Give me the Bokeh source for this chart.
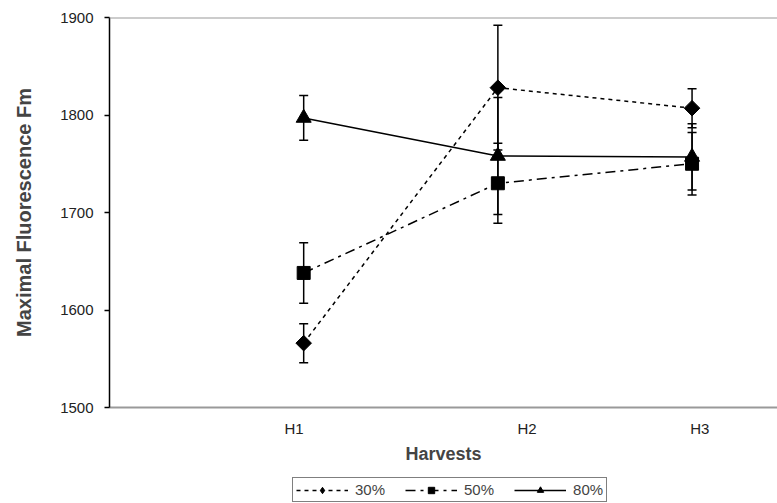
import math
from bokeh.plotting import figure
from bokeh.layouts import column
from bokeh.models import (ColumnDataSource, Whisker, TeeHead, FixedTicker, Legend,
                          LegendItem, Span)
from bokeh.embed import file_html
from bokeh.resources import INLINE

# ---- data ----
harvests = ["H1", "H2", "H3"]
harvest_x = [1, 2, 3]
fm_30 = [1566, 1828, 1807]
err_30 = [20, 64, 20]
fm_50 = [1638, 1730, 1750]
err_50 = [31, 41, 32]
fm_80 = [1797, 1758, 1757]
err_80 = [23, 60, 34]
y_ticks = [1500, 1600, 1700, 1800, 1900]

# label positions (layout, as in the reference the labels sit slightly off the points)
label_pos = [0.95, 2.15, 3.04]

FONT = "Liberation Sans"

p = figure(width=777, height=470, x_range=(0, 3.44), y_range=(1500, 1900),
           output_backend="svg", toolbar_location=None,
           min_border_left=109, min_border_right=0, min_border_top=17,
           min_border_bottom=63)
p.outline_line_color = None
p.xgrid.grid_line_color = None
p.ygrid.grid_line_color = None
p.background_fill_color = "white"
p.border_fill_color = "white"

# y axis
p.yaxis.ticker = FixedTicker(ticks=y_ticks)
p.yaxis.axis_line_color = "black"
p.yaxis.axis_line_width = 1.5
p.yaxis.major_tick_line_color = "black"
p.yaxis.major_tick_line_width = 1.5
p.yaxis.major_tick_out = 5
p.yaxis.major_tick_in = 0
p.yaxis.minor_tick_line_color = None
p.yaxis.major_label_standoff = 11
p.yaxis.major_label_text_font = FONT
p.yaxis.major_label_text_font_size = "15px"
p.yaxis.major_label_text_color = "#222222"
p.yaxis.axis_label = "Maximal Fluorescence Fm"
p.yaxis.axis_label_text_font = FONT
p.yaxis.axis_label_text_font_style = "bold"
p.yaxis.axis_label_text_font_size = "20px"
p.yaxis.axis_label_standoff = 22

# x axis
p.xaxis.ticker = FixedTicker(ticks=label_pos)
p.xaxis.major_label_overrides = {pos: lab for pos, lab in zip(label_pos, harvests)}
p.xaxis.axis_line_color = "#999999"
p.xaxis.axis_line_width = 2
p.xaxis.major_tick_line_color = None
p.xaxis.minor_tick_line_color = None
p.xaxis.major_tick_out = 0
p.xaxis.major_tick_in = 0
p.xaxis.major_label_standoff = 12
p.xaxis.major_label_text_font = FONT
p.xaxis.major_label_text_font_size = "15px"
p.xaxis.major_label_text_color = "#222222"
p.xaxis.axis_label = "Harvests"
p.xaxis.axis_label_text_font = FONT
p.xaxis.axis_label_text_font_style = "bold"
p.xaxis.axis_label_text_font_size = "18px"
p.xaxis.axis_label_standoff = 4

# top border line
p.add_layout(Span(location=1900, dimension="width", line_color="#999999", line_width=2))

# label, values, errors, dash, marker, size, angle, legend marker, legend size
series = [
    ("30%", fm_30, err_30, "4 4", "square", 11, math.pi / 4, "diamond", 14),
    ("50%", fm_50, err_50, "10 5 3 5", "square", 13, 0, "square", 10),
    ("80%", fm_80, err_80, "solid", "triangle", 15, 0, "triangle", 12),
]

# legend strip under the chart (its ranges keep the data out of view; only the key shows)
lf = figure(width=777, height=33, x_range=(-10, -9), y_range=(0, 1),
            output_backend="svg", toolbar_location=None,
            min_border=0, outline_line_color=None)
lf.axis.visible = False
lf.grid.visible = False
lf.background_fill_color = "white"
lf.border_fill_color = "white"

items = []
for label, vals, errs, dash, marker, size, angle, lmarker, lsize in series:
    src = ColumnDataSource(dict(
        x=harvest_x, y=vals,
        upper=[v + e for v, e in zip(vals, errs)],
        lower=[v - e for v, e in zip(vals, errs)],
    ))
    w = Whisker(source=src, base="x", upper="upper", lower="lower",
                line_color="black", line_width=1.5, level="glyph",
                upper_head=TeeHead(size=9, line_color="black", line_width=1.5),
                lower_head=TeeHead(size=9, line_color="black", line_width=1.5))
    p.add_layout(w)
    p.line("x", "y", source=src, line_color="black", line_width=1.5, line_dash=dash)
    p.scatter("x", "y", source=src, marker=marker, size=size, angle=angle,
              fill_color="black", line_color="black")
    lln = lf.line("x", "y", source=src, line_color="black", line_width=1.5,
                  line_dash=dash)
    lsc = lf.scatter("x", "y", source=src, marker=lmarker, size=lsize,
                     fill_color="black", line_color="black")
    items.append(LegendItem(label=label, renderers=[lln, lsc]))

legend = Legend(items=items, orientation="horizontal", location=(183, 1),
                border_line_color="black", border_line_width=1.5,
                padding=3, spacing=20, margin=0,
                glyph_width=52, glyph_height=16, label_standoff=7,
                label_text_font=FONT, label_text_font_size="15px",
                label_height=16, background_fill_color="white",
                background_fill_alpha=1.0)
lf.add_layout(legend)

layout = column(p, lf, spacing=0)
open("out.html", "w").write(file_html(layout, INLINE))
